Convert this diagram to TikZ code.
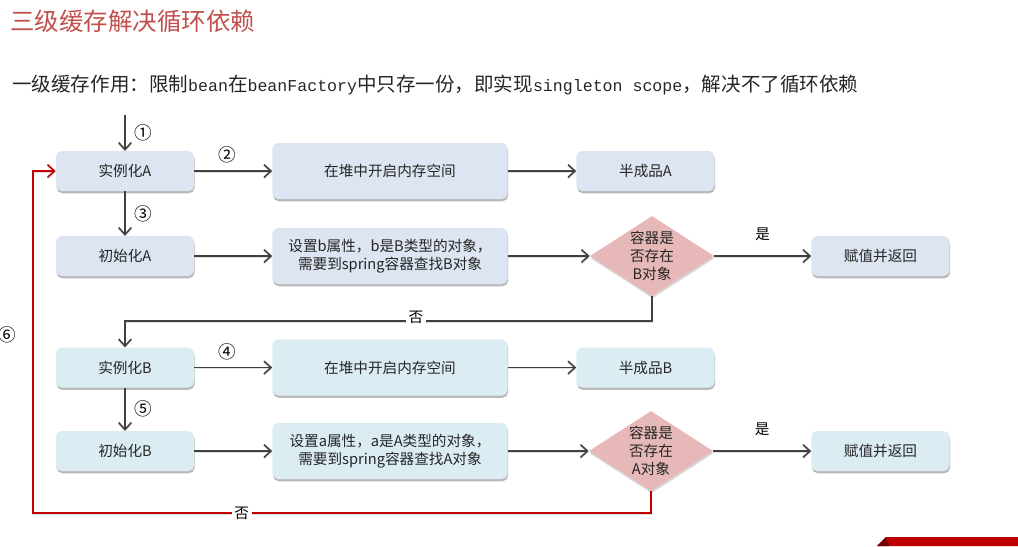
\documentclass[tikz,border=0pt]{standalone}
\usepackage{fontspec}
\setmainfont{Noto Sans CJK SC}
\newfontfamily\codefont{Liberation Mono}
\usetikzlibrary{arrows.meta,positioning,shapes.geometric,shadows,calc}
\definecolor{rowa}{RGB}{220,229,241}
\definecolor{rowb}{RGB}{219,237,243}
\definecolor{chkfill}{RGB}{230,184,183}
\definecolor{linegray}{RGB}{64,64,64}
\definecolor{loopred}{RGB}{192,0,0}
\definecolor{titlered}{RGB}{192,80,77}
\newcommand\boxfont{\fontsize{10.4}{12.6}\selectfont}
\newcommand\codeword[1]{{\codefont\fontsize{11.8}{14}\selectfont #1}}

\begin{document}
\begin{tikzpicture}[x=0.025cm,y=-0.025cm,
    pbox/.style={rounded corners=4pt, minimum width=3.45cm, minimum height=1cm,
      font=\boxfont, text=black!85, align=center,
      drop shadow={shadow xshift=0.4pt,shadow yshift=-1.6pt,fill=black!55,opacity=0.5}},
    bigbox/.style={pbox, minimum width=5.875cm, minimum height=1.4cm},
    decide/.style={diamond, aspect=1.55, inner sep=0pt, minimum width=3.1cm,
      minimum height=2cm, fill=chkfill, align=center, font=\boxfont, text=black!85,
      drop shadow={shadow xshift=0.4pt,shadow yshift=-1.6pt,fill=black!40,opacity=0.4}},
    arrowline/.style={draw=linegray, line width=1.3pt,
      -{Straight Barb[length=5pt,width=9pt,line width=1.1pt]},
      preaction={draw=black!12, transform canvas={yshift=-0.9pt}}},
    redline/.style={arrowline, draw=loopred},
    stepnum/.style={font=\fontsize{12.5}{14}\selectfont, inner sep=1pt, text=black},
    branch/.style={font=\boxfont, inner sep=2pt, text=black}
  ]
  \useasboundingbox (0,0) rectangle (1018,546);

  % heading
  \node[anchor=west, inner sep=0, text=titlered, font=\fontsize{17.4}{20}\selectfont]
    (title) at (10,21) {三级缓存解决循环依赖};
  \node[anchor=west, inner sep=0, text=black!85, font=\fontsize{13.9}{16}\selectfont]
    (note) at (12,85) {一级缓存作用：限制\codeword{bean}在\codeword{beanFactory}中只存一份，即实现\codeword{singleton scope}，解决不了循环依赖};

  % A
  \node[pbox, fill=rowa] (instA) at (125,171) {实例化A};
  \node[bigbox, fill=rowa] (heapA) at (390,171) {在堆中开启内存空间};
  \node[pbox, fill=rowa] (halfA) at (645.5,171) {半成品A};
  \node[pbox, fill=rowa] (initA) at (125,256) {初始化A};
  \node[bigbox, fill=rowa] (setA) at (390,256) {设置b属性，b是B类型的对象，\\需要到spring容器查找B对象};
  \node[decide] (chkA) at (652,256) {容器是\\否存在\\B对象};
  \node[pbox, fill=rowa] (retA) at (880.5,256) {赋值并返回};

  % B
  \node[pbox, fill=rowb] (instB) at (125,367.5) {实例化B};
  \node[bigbox, fill=rowb] (heapB) at (390,367.5) {在堆中开启内存空间};
  \node[pbox, fill=rowb] (halfB) at (645.5,367.5) {半成品B};
  \node[pbox, fill=rowb] (initB) at (125,451) {初始化B};
  \node[bigbox, fill=rowb] (setB) at (390,451) {设置a属性，a是A类型的对象，\\需要到spring容器查找A对象};
  \node[decide] (chkB) at (651,451) {容器是\\否存在\\A对象};
  \node[pbox, fill=rowb] (retB) at (880.5,451) {赋值并返回};

  \coordinate (entry) at (125,115);

  \draw[arrowline] (entry) -- node[stepnum, right=5pt] {①} (instA);
  \draw[arrowline] (instA) -- node[stepnum, above=4pt, xshift=-4] {②} (heapA);
  \draw[arrowline] (heapA) -- (halfA);
  \draw[arrowline] (instA) -- node[stepnum, right=5pt] {③} (initA);
  \draw[arrowline] (initA) -- (setA);
  \draw[arrowline] (setA) -- (chkA);
  \draw[arrowline] (chkA) -- node[branch, above=8pt] {是} (retA);
  \draw[arrowline] (chkA.south) -- ++(0,25) -| node[branch, pos=0.224, fill=white, yshift=3] {否} (instB.north);

  \draw[arrowline] (instB) -- node[stepnum, above=4pt, xshift=-4] {④} (heapB);
  \draw[arrowline] (heapB) -- (halfB);
  \draw[arrowline] (instB) -- node[stepnum, right=5pt] {⑤} (initB);
  \draw[arrowline] (initB) -- (setB);
  \draw[arrowline] (setB) -- (chkB);
  \draw[arrowline] (chkB) -- node[branch, above=8pt] {是} (retB);

  \draw[redline] (chkB.south) -- ++(0,22) -| node[branch, pos=0.331, fill=white] {否}
    node[stepnum, pos=0.76, left=10pt] {⑥} ($(instA.west)+(-23,0)$) -- (instA.west);

  % corner banner
  \fill[loopred] (877,546) -- (886,537) -- (1018,537) -- (1018,546) -- cycle;
  \fill[loopred!60!black] (877,546) -- (886,537) -- (889,546) -- cycle;
\end{tikzpicture}
\end{document}
